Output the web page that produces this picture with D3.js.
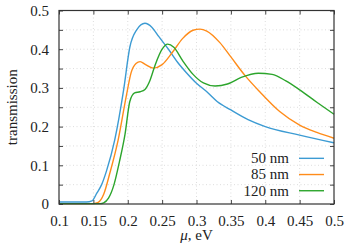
<!DOCTYPE html>
<html>
<head>
<meta charset="utf-8">
<script src="https://cdn.jsdelivr.net/npm/d3@7"></script>
<style>
  body { margin: 0; background: #fff; }
</style>
</head>
<body>
<div id="vis"></div>
<script>
// chemical potential, eV  ->  transmission
const blue50 = [
  [0.1, 0.005], [0.12, 0.005], [0.14, 0.005], [0.148, 0.008], [0.155, 0.028],
  [0.162, 0.05], [0.169, 0.085], [0.181, 0.165], [0.194, 0.295], [0.203, 0.405],
  [0.213, 0.45], [0.225, 0.467], [0.235, 0.457], [0.245, 0.433], [0.26, 0.398],
  [0.273, 0.365], [0.286, 0.338], [0.3, 0.312], [0.315, 0.29], [0.33, 0.265],
  [0.35, 0.243], [0.375, 0.218], [0.4, 0.2], [0.45, 0.178], [0.5, 0.158]
]
const orange85 = [
  [0.1, 0.001], [0.15, 0.001], [0.157, 0.004], [0.165, 0.025], [0.174, 0.08],
  [0.186, 0.165], [0.198, 0.28], [0.205, 0.34], [0.212, 0.363], [0.218, 0.368],
  [0.226, 0.36], [0.237, 0.351], [0.25, 0.36], [0.265, 0.392], [0.28, 0.428],
  [0.295, 0.449], [0.305, 0.452], [0.315, 0.447], [0.334, 0.417], [0.35, 0.38],
  [0.371, 0.331], [0.392, 0.29], [0.421, 0.239], [0.45, 0.204], [0.475, 0.185],
  [0.5, 0.17]
]
const green120 = [
  [0.1, 0.001], [0.16, 0.001], [0.165, 0.003], [0.172, 0.015], [0.18, 0.05],
  [0.188, 0.11], [0.196, 0.18], [0.203, 0.265], [0.21, 0.287], [0.218, 0.29],
  [0.225, 0.296], [0.232, 0.318], [0.24, 0.36], [0.25, 0.4], [0.258, 0.413],
  [0.267, 0.405], [0.28, 0.37], [0.295, 0.335], [0.31, 0.313], [0.327, 0.305],
  [0.345, 0.31], [0.365, 0.327], [0.39, 0.338], [0.41, 0.335], [0.43, 0.318],
  [0.45, 0.295], [0.475, 0.263], [0.5, 0.232]
]

const seriesNames = ['50 nm', '85 nm', '120 nm']
const seriesColors = ['#3c9bd3', '#ff8c1a', '#2ca52c']
const seriesData = [blue50, orange85, green120]

const xTicks = [0.1, 0.15, 0.2, 0.25, 0.3, 0.35, 0.4, 0.45, 0.5]
const yTicks = [0, 0.05, 0.1, 0.15, 0.2, 0.25, 0.3, 0.35, 0.4, 0.45, 0.5]
const yLabelTicks = [0, 0.1, 0.2, 0.3, 0.4, 0.5]

const outerWidth = 349
const outerHeight = 246
const margin = { left: 59, top: 10.5, right: 15, bottom: 42 }
const innerWidth = outerWidth - margin.left - margin.right
const innerHeight = outerHeight - margin.top - margin.bottom
const fontFamily = "'Liberation Serif', 'DejaVu Serif', serif"
const fontSize = 15

const svg = d3.select('#vis').append('svg')
  .attr('width', outerWidth)
  .attr('height', outerHeight)
  .style('font-family', fontFamily)
  .style('font-size', fontSize + 'px')

const g = svg.append('g')
  .attr('transform', `translate(${margin.left},${margin.top})`)

const xScale = d3.scaleLinear().domain([0.1, 0.5]).range([0, innerWidth])
const yScale = d3.scaleLinear().domain([0, 0.5]).range([innerHeight, 0])

// dotted grid
g.append('g').selectAll('line').data(xTicks.slice(1, -1)).join('line')
  .attr('x1', d => xScale(d)).attr('x2', d => xScale(d))
  .attr('y1', 0).attr('y2', innerHeight)
  .attr('stroke', '#d4d4d4').attr('stroke-width', 0.8).attr('stroke-dasharray', '1,2.5')

g.append('g').selectAll('line').data(yTicks.slice(1, -1)).join('line')
  .attr('y1', d => yScale(d)).attr('y2', d => yScale(d))
  .attr('x1', 0).attr('x2', innerWidth)
  .attr('stroke', '#d4d4d4').attr('stroke-width', 0.8).attr('stroke-dasharray', '1,2.5')

// curves
const line = d3.line()
  .x(d => xScale(d[0]))
  .y(d => yScale(d[1]))
  .curve(d3.curveMonotoneX)

g.append('g').selectAll('path').data(seriesData).join('path')
  .attr('d', line)
  .attr('fill', 'none')
  .attr('stroke', (d, i) => seriesColors[i])
  .attr('stroke-width', 1.4)

// axes, ticks pointing inward on all four sides
const tickLen = 4
const xAxisB = d3.axisBottom(xScale).tickValues(xTicks).tickSizeInner(-tickLen).tickSizeOuter(0)
  .tickFormat(d3.format('~g')).tickPadding(11)
const xAxisT = d3.axisTop(xScale).tickValues(xTicks).tickSizeInner(-tickLen).tickSizeOuter(0).tickFormat('')
const yAxisL = d3.axisLeft(yScale).tickValues(yTicks).tickSizeInner(-tickLen).tickSizeOuter(0)
  .tickFormat(d => yLabelTicks.includes(d) ? d3.format('~g')(d) : '').tickPadding(10)
const yAxisR = d3.axisRight(yScale).tickValues(yTicks).tickSizeInner(-tickLen).tickSizeOuter(0).tickFormat('')

const xAxisBG = g.append('g').attr('transform', `translate(0,${innerHeight})`).call(xAxisB)
const xAxisTG = g.append('g').call(xAxisT)
const yAxisLG = g.append('g').call(yAxisL)
const yAxisRG = g.append('g').attr('transform', `translate(${innerWidth},0)`).call(yAxisR)

for (const a of [xAxisBG, xAxisTG, yAxisLG, yAxisRG]) {
  a.attr('font-family', null).attr('font-size', null)
  a.select('.domain').remove()
  a.selectAll('.tick line').attr('stroke', '#444').attr('stroke-width', 1)
  a.selectAll('.tick text').attr('fill', '#222')
}

g.append('rect')
  .attr('width', innerWidth).attr('height', innerHeight)
  .attr('fill', 'none').attr('stroke', '#333').attr('stroke-width', 1.2)

// axis labels
const xLabel = g.append('text')
  .attr('x', innerWidth / 2)
  .attr('y', innerHeight + 36)
  .attr('text-anchor', 'middle')
  .attr('fill', '#222')
xLabel.append('tspan').attr('font-style', 'italic').text('μ')
xLabel.append('tspan').text(', eV')

svg.append('text')
  .attr('transform', `translate(17,${margin.top + innerHeight / 2}) rotate(-90)`)
  .attr('text-anchor', 'middle')
  .attr('fill', '#222')
  .text('transmission')

// legend
const legend = g.append('g').attr('transform', `translate(${innerWidth - 35},${yScale(0.118)})`)
const rows = legend.selectAll('g').data(seriesNames).join('g')
  .attr('transform', (d, i) => `translate(0,${i * 16.2})`)
rows.append('text')
  .attr('x', -10).attr('y', 0).attr('dy', '0.33em')
  .attr('text-anchor', 'end')
  .attr('fill', '#222')
  .text(d => d)
rows.append('line')
  .attr('x1', 0).attr('x2', 25).attr('y1', 0).attr('y2', 0)
  .attr('stroke', (d, i) => seriesColors[i])
  .attr('stroke-width', 1.4)
</script>
</body>
</html>
